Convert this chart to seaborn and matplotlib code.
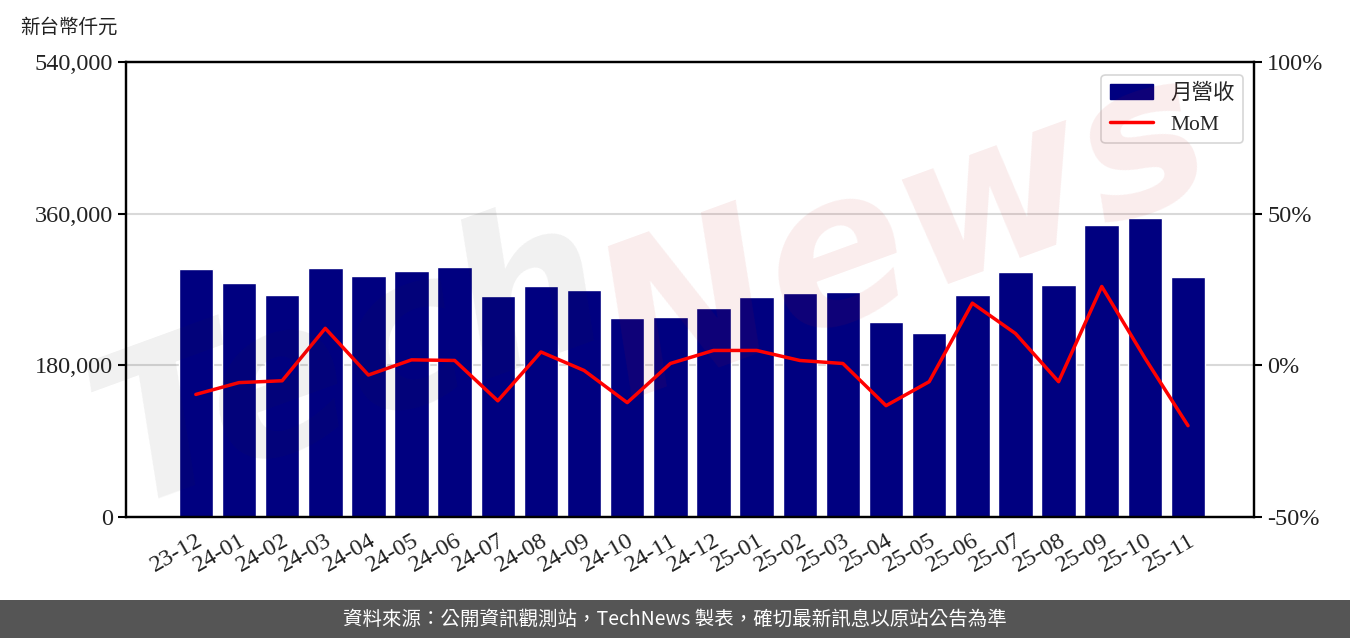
import numpy as np
import pandas as pd
import seaborn as sns
import matplotlib.pyplot as plt
from matplotlib.ticker import FuncFormatter, FixedLocator
from matplotlib.patches import Patch
from matplotlib.lines import Line2D

# 月營收 (新台幣仟元) 與 MoM (%)
months = ['23-12', '24-01', '24-02', '24-03', '24-04', '24-05', '24-06', '24-07',
          '24-08', '24-09', '24-10', '24-11', '24-12', '25-01', '25-02', '25-03',
          '25-04', '25-05', '25-06', '25-07', '25-08', '25-09', '25-10', '25-11']
revenue = [294300, 277700, 263500, 295500, 286000, 292000, 296700, 262300,
           274200, 269400, 236200, 237400, 248000, 261100, 265800, 267000,
           231400, 218400, 263500, 290800, 275300, 346500, 354800, 284800]
mom = [-9.6, -5.7, -5.1, 12.2, -3.2, 1.8, 1.6, -11.7,
       4.4, -1.7, -12.3, 0.6, 4.9, 4.9, 1.6, 0.6,
       -13.3, -5.4, 20.5, 10.5, -5.4, 26.0, 2.4, -19.9]
left_ticks = [0, 180000, 360000, 540000]
right_ticks = [-50, 0, 50, 100]

df = pd.DataFrame({'month': months, 'revenue': revenue, 'mom': mom})
df['pos'] = np.arange(len(df))

sns.set_style('white')
serif = ['Liberation Serif', 'Noto Sans CJK TC', 'DejaVu Serif']
cjk = ['Noto Sans CJK TC', 'DejaVu Sans']
plt.rcParams['font.family'] = serif
plt.rcParams['axes.unicode_minus'] = False

fig = plt.figure(figsize=(13.5, 6.38), dpi=100)
ax = fig.add_axes([0.0933, 0.1897, 0.8356, 0.7131])

sns.barplot(data=df, x='pos', y='revenue', color='#000080', width=0.8,
            saturation=1, native_scale=True, ax=ax, zorder=2)
ax.set_xlim(-1.62, len(df) + 0.53)
ax.set_ylim(0, 540000)
ax.yaxis.set_major_locator(FixedLocator(left_ticks))
ax.yaxis.set_major_formatter(FuncFormatter(lambda v, p: f'{v:,.0f}'))
ax.grid(axis='y', color='#d9d9d9', linewidth=1.5)
ax.set_axisbelow(True)
ax.set_xticks(df['pos'])
ax.set_xticklabels(months, rotation=30, ha='right', rotation_mode='anchor')
ax.set_xlabel('')
ax.set_ylabel('')

ax2 = ax.twinx()
sns.lineplot(data=df, x='pos', y='mom', color='red', linewidth=2.5, ax=ax2, zorder=3)
ax2.set_ylim(-50, 100)
ax2.yaxis.set_major_locator(FixedLocator(right_ticks))
ax2.yaxis.set_major_formatter(FuncFormatter(lambda v, p: f'{v:.0f}%'))
ax2.set_ylabel('')
ax2.set_xlabel('')

for a in (ax, ax2):
    for s in a.spines.values():
        s.set_color('black')
        s.set_linewidth(1.6)
    a.tick_params(axis='both', direction='out', length=6, width=1.5,
                  labelsize=17.5, colors='black', labelcolor='#222222')

# watermark
fig.text(0.26, 0.43, 'Tech', fontsize=150, fontweight='bold', style='italic',
         family='DejaVu Sans', color='#2d2d2d', alpha=0.07, rotation=20,
         ha='center', va='center', zorder=5)
fig.text(0.67, 0.63, 'News', fontsize=150, fontweight='bold', style='italic',
         family='DejaVu Sans', color='#c31919', alpha=0.08, rotation=20,
         ha='center', va='center', zorder=5)

handles = [Patch(facecolor='#000080', edgecolor='#000080'),
           Line2D([0], [0], color='red', linewidth=2.5)]
leg = ax2.legend(handles, ['月營收', 'MoM'], loc='upper right',
                 frameon=True, borderpad=0.4, handlelength=2.0,
                 bbox_to_anchor=(1.0, 0.995),
                 prop={'family': serif, 'size': 15.5})
leg.get_frame().set_edgecolor('#cccccc')
leg.get_frame().set_linewidth(1.2)

fig.text(0.015, 0.958, '新台幣仟元', fontsize=14, family=cjk, color='#222222',
         ha='left', va='center')

# footer
fig.patches.append(plt.Rectangle((0, 0), 1, 38 / 638, transform=fig.transFigure,
                                 facecolor='#555555', edgecolor='none', zorder=0))
fig.text(0.5, 19 / 638, '資料來源：公開資訊觀測站，TechNews 製表，確切最新訊息以原站公告為準',
         fontsize=14, family=cjk, color='white', ha='center', va='center')

fig.savefig('out.png', dpi=100)
